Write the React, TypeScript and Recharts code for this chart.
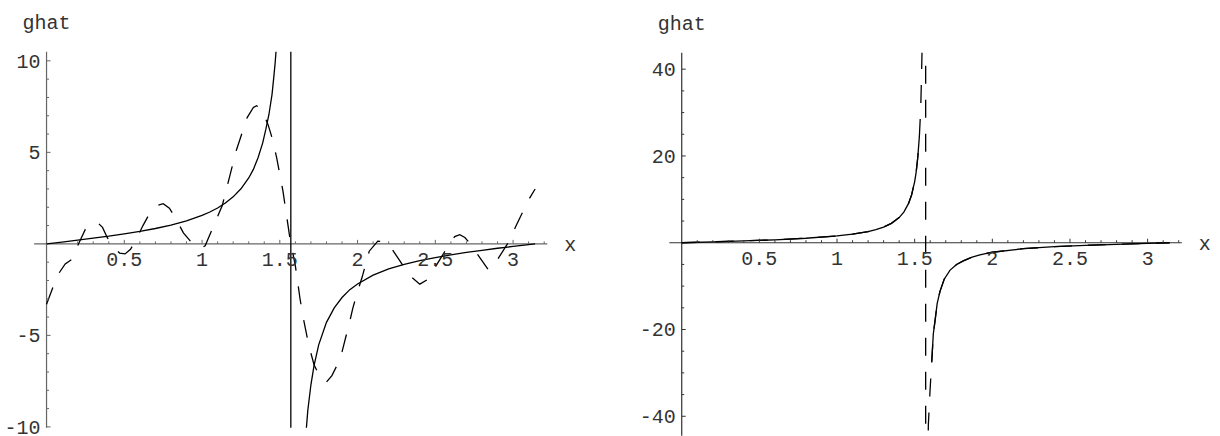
import React from 'react';
import { LineChart, Line, XAxis, YAxis, ReferenceLine, ReferenceDot } from 'recharts';

// ---------- data ----------
const xDomain: [number, number] = [-0.08, 3.22];
const leftYDomain: [number, number] = [-10.05, 10.5];
const rightYDomain: [number, number] = [-44.5, 43.8];

const xMajorTicks = [0.5, 1, 1.5, 2, 2.5, 3];
const xMajorLabels = ['0.5', '1', '1.5', '2', '2.5', '3'];
const xMinorTicks = [0.1, 0.2, 0.3, 0.4, 0.6, 0.7, 0.8, 0.9, 1.1, 1.2, 1.3, 1.4, 1.6, 1.7, 1.8, 1.9, 2.1, 2.2, 2.3, 2.4, 2.6, 2.7, 2.8, 2.9, 3.1, 3.2];

const leftYMajorTicks = [-10, -5, 5, 10];
const leftYMajorLabels = ['-10', '-5', '5', '10'];
const leftYMinorTicks = [-9, -8, -7, -6, -4, -3, -2, -1, 1, 2, 3, 4, 6, 7, 8, 9];

const rightYMajorTicks = [-40, -20, 20, 40];
const rightYMajorLabels = ['-40', '-20', '20', '40'];
const rightYMinorTicks = [-35, -30, -25, -15, -10, -5, 5, 10, 15, 25, 30, 35];

// left panel: exact ghat (solid), including the jump at the pole
const leftSolid: [number, number][] = [
  [0, 0], [0.1, 0.1], [0.2, 0.2], [0.3, 0.31], [0.4, 0.42], [0.5, 0.55], [0.6, 0.68], [0.7, 0.84],
  [0.8, 1.03], [0.9, 1.26], [1.0, 1.56], [1.05, 1.74], [1.1, 1.96], [1.15, 2.23], [1.2, 2.57],
  [1.25, 3.01], [1.3, 3.6], [1.33, 4.07], [1.36, 4.71], [1.39, 5.52], [1.41, 6.25], [1.43, 7.07],
  [1.45, 8.17], [1.46, 9.0], [1.47, 9.89], [1.48, 11.0], [1.5, 14.1],
  [1.5708, 60], [1.5708, -60],
  [1.64, -14.4], [1.66, -11.2], [1.68, -9.1], [1.70, -7.7], [1.72, -6.65], [1.75, -5.52],
  [1.8, -4.29], [1.85, -3.5], [1.9, -2.93], [1.95, -2.5], [2.0, -2.19], [2.1, -1.71], [2.2, -1.37],
  [2.3, -1.12], [2.4, -0.92], [2.5, -0.75], [2.6, -0.6], [2.7, -0.47], [2.8, -0.36], [2.9, -0.24],
  [3.0, -0.14], [3.1, -0.04], [3.1416, 0],
];

// left panel: approximation (dashed)
const leftDashed: [number, number][] = [
  [0, -3.3], [0.04, -2.4], [0.08, -1.6], [0.12, -1.1], [0.15, -0.92], [0.17, -0.8], [0.2, -0.1],
  [0.25, 0.8], [0.29, 1.1], [0.33, 1.15], [0.36, 0.9], [0.39, 0.35], [0.43, -0.2], [0.47, -0.5],
  [0.505, -0.55], [0.54, -0.3], [0.58, 0.3], [0.62, 1.0], [0.665, 1.7], [0.71, 2.1], [0.75, 2.2],
  [0.79, 1.95], [0.83, 1.4], [0.88, 0.6], [0.94, 0.0], [0.99, -0.25], [1.02, -0.1], [1.05, 0.5],
  [1.09, 1.3], [1.13, 2.1], [1.16, 3.1], [1.22, 5.1], [1.29, 6.9], [1.33, 7.45], [1.35, 7.55],
  [1.375, 7.4], [1.4, 7.0], [1.425, 6.5], [1.45, 5.8], [1.48, 4.7], [1.52, 2.9], [1.565, 0.3],
  [1.6, -1.2], [1.63, -3.0], [1.65, -4.0], [1.685, -5.5], [1.72, -6.6], [1.76, -7.3], [1.8, -7.55],
  [1.835, -7.2], [1.87, -6.6], [1.9, -5.9], [1.945, -4.4], [1.97, -3.5], [2.0, -2.6], [2.03, -1.8],
  [2.075, -0.4], [2.13, 0.15], [2.17, 0.1], [2.21, -0.15], [2.27, -0.9], [2.33, -1.7], [2.4, -2.2],
  [2.45, -1.95], [2.49, -1.4], [2.53, -0.85], [2.59, 0.0], [2.625, 0.4], [2.657, 0.5], [2.69, 0.35],
  [2.72, 0.05], [2.786, -0.75], [2.84, -1.4], [2.87, -1.3], [2.9, -0.85], [2.968, 0.05], [3.02, 1.0],
  [3.096, 2.35], [3.1416, 3.0],
];

// right panel: exact ghat (solid), truncated near the pole
const rightSolidA: [number, number][] = [
  [0, 0], [0.2, 0.2], [0.4, 0.42], [0.6, 0.68], [0.8, 1.03], [1.0, 1.56], [1.1, 1.96], [1.2, 2.57],
  [1.25, 3.01], [1.3, 3.6], [1.35, 4.46], [1.4, 5.8], [1.43, 7.07], [1.46, 9.0], [1.48, 11.0],
  [1.5, 14.1], [1.51, 16.4], [1.52, 19.7], [1.53, 24.4],
];
const rightSolidB: [number, number][] = [
  [1.61, -27.4], [1.62, -21.0], [1.631, -18.0], [1.645, -14.0], [1.663, -11.2], [1.69, -8.4],
  [1.728, -6.3], [1.77, -5.0], [1.813, -4.2], [1.87, -3.3], [1.92, -2.8], [2.0, -2.19], [2.2, -1.37],
  [2.4, -0.92], [2.6, -0.6], [2.8, -0.36], [3.0, -0.14], [3.1416, 0],
];

// right panel: approximation (dashed)
const rightDashed: [number, number][] = [
  [0, 0], [0.2, 0.2], [0.4, 0.42], [0.6, 0.68], [0.8, 1.03], [1.0, 1.56], [1.1, 1.96], [1.2, 2.57],
  [1.25, 3.01], [1.3, 3.6], [1.35, 4.46], [1.4, 5.8], [1.43, 7.07], [1.46, 9.0], [1.48, 11.0],
  [1.5, 14.1], [1.51, 16.4], [1.52, 19.7], [1.53, 24.4], [1.539, 31], [1.545, 40], [1.549, 47],
  [1.5708, 60], [1.5708, -60],
  [1.586, -47], [1.588, -42], [1.599, -34], [1.61, -27.4], [1.62, -21.0], [1.631, -18.0],
  [1.645, -14.0], [1.663, -11.2], [1.69, -8.4], [1.728, -6.3], [1.77, -5.0], [1.813, -4.2],
  [1.87, -3.3], [1.92, -2.8], [2.0, -2.19], [2.2, -1.37], [2.4, -0.92], [2.6, -0.6], [2.8, -0.36],
  [3.0, -0.14], [3.1416, 0],
];

// ---------- styling ----------
const FONT = '"Liberation Mono", "Courier New", monospace';
const FS = 20;
const TEXT = '#333';

const rows = (pts: [number, number][]) => pts.map(([x, y]) => ({ x, y }));

const xTickShape = (len: number, label?: string, color?: string) => (p: any) => (
  <g>
    <line x1={p.cx} y1={p.cy} x2={p.cx} y2={p.cy - len} stroke={color} strokeWidth={1} />
    {label ? (
      <text x={p.cx} y={p.cy + 22.5} textAnchor="middle" fontFamily={FONT} fontSize={FS} fill={TEXT}>
        {label}
      </text>
    ) : null}
  </g>
);

const yTickShape = (len: number, label?: string, color?: string) => (p: any) => (
  <g>
    <line x1={p.cx} y1={p.cy} x2={p.cx + len} y2={p.cy} stroke={color} strokeWidth={1} />
    {label ? (
      <text x={p.cx - 6} y={p.cy} dy="0.34em" textAnchor="end" fontFamily={FONT} fontSize={FS} fill={TEXT}>
        {label}
      </text>
    ) : null}
  </g>
);

type PanelProps = {
  width: number;
  margin: { top: number; right: number; bottom: number; left: number };
  yDomain: [number, number];
  yMajor: number[];
  yMajorLabels: string[];
  yMinor: number[];
  axisColor: string;
  solid: [number, number][][];
  dashed: [number, number][];
};

function Panel(props: PanelProps) {
  const { width, margin, yDomain, yMajor, yMajorLabels, yMinor, axisColor, solid, dashed } = props;
  return (
    <LineChart width={width} height={436} margin={margin}>
      <XAxis type="number" dataKey="x" domain={xDomain} allowDataOverflow hide />
      <YAxis type="number" dataKey="y" domain={yDomain} allowDataOverflow hide />
      <ReferenceLine
        y={0}
        stroke={axisColor}
        strokeWidth={1.2}
        ifOverflow="visible"
        label={{ value: 'x', position: 'right', offset: 17, fill: TEXT, fontSize: FS, fontFamily: FONT }}
      />
      <ReferenceLine
        x={0}
        stroke={axisColor}
        strokeWidth={1.2}
        ifOverflow="visible"
        label={{ value: 'ghat', position: 'top', offset: 23, fill: TEXT, fontSize: FS, fontFamily: FONT }}
      />
      {xMajorTicks.map((v, i) => (
        <ReferenceDot key={'xM' + v} x={v} y={0} r={0} ifOverflow="visible" shape={xTickShape(4, xMajorLabels[i], axisColor)} />
      ))}
      {xMinorTicks.map((v) => (
        <ReferenceDot key={'xm' + v} x={v} y={0} r={0} ifOverflow="visible" shape={xTickShape(2.5, undefined, axisColor)} />
      ))}
      {yMajor.map((v, i) => (
        <ReferenceDot key={'yM' + v} x={0} y={v} r={0} ifOverflow="visible" shape={yTickShape(4, yMajorLabels[i], axisColor)} />
      ))}
      {yMinor.map((v) => (
        <ReferenceDot key={'ym' + v} x={0} y={v} r={0} ifOverflow="visible" shape={yTickShape(2.5, undefined, axisColor)} />
      ))}
      {solid.map((s, i) => (
        <Line
          key={'s' + i}
          data={rows(s)}
          dataKey="y"
          type="linear"
          stroke="#000"
          strokeWidth={1.3}
          dot={false}
          activeDot={false}
          isAnimationActive={false}
        />
      ))}
      <Line
        data={rows(dashed)}
        dataKey="y"
        type="linear"
        stroke="#000"
        strokeWidth={1.3}
        strokeDasharray="18 16"
        dot={false}
        activeDot={false}
        isAnimationActive={false}
      />
    </LineChart>
  );
}

export default function App() {
  return (
    <div style={{ position: 'absolute', left: 0, top: 0, width: 1220, height: 436, background: '#fff' }}>
      <div style={{ position: 'absolute', left: 0, top: 0 }}>
        <Panel
          width={610}
          margin={{ top: 51.7, right: 62.7, bottom: 8.2, left: 34.1 }}
          yDomain={leftYDomain}
          yMajor={leftYMajorTicks}
          yMajorLabels={leftYMajorLabels}
          yMinor={leftYMinorTicks}
          axisColor="#666"
          solid={[leftSolid]}
          dashed={leftDashed}
        />
      </div>
      <div style={{ position: 'absolute', left: 610, top: 0 }}>
        <Panel
          width={610}
          margin={{ top: 52.7, right: 38.2, bottom: 0.2, left: 59.3 }}
          yDomain={rightYDomain}
          yMajor={rightYMajorTicks}
          yMajorLabels={rightYMajorLabels}
          yMinor={rightYMinorTicks}
          axisColor="#333"
          solid={[rightSolidA, rightSolidB]}
          dashed={rightDashed}
        />
      </div>
    </div>
  );
}
